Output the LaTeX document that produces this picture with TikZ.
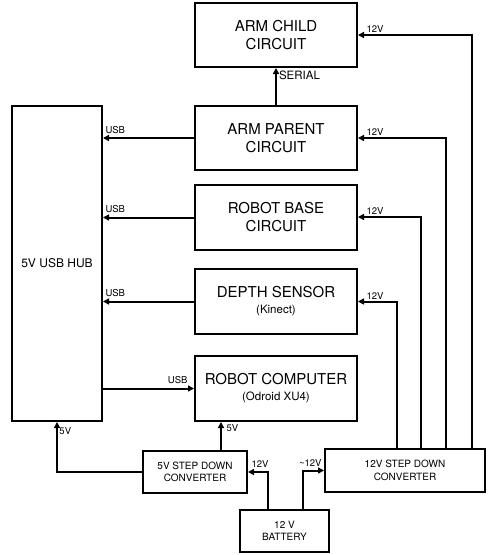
\documentclass[tikz,border=0pt]{standalone}
\usepackage{fontspec}
\setmainfont{TeX Gyre Heros}
\usepackage{tikz}
\usetikzlibrary{calc,arrows.meta}

\begin{document}
\begin{tikzpicture}[x=1pt, y=-1pt, line width=2pt,
    block/.style={draw, rectangle, minimum width=162pt, minimum height=64pt, align=center, font=\fontsize{15}{18}\selectfont},
    small/.style={draw, rectangle, align=center, font=\fontsize{10}{12.5}\selectfont},
    lbl/.style={font=\fontsize{9.5}{11}\selectfont, inner sep=1.5pt},
    >={Triangle[length=6pt, width=6pt]}]
    \useasboundingbox (0,0) rectangle (501,555);

    \node[block] (child) at (276, 35) {ARM CHILD\\CIRCUIT};
    \node[block] (parent) at (276, 138) {ARM PARENT\\CIRCUIT};
    \node[block, minimum height=65pt] (base) at (276, 217.5) {ROBOT BASE\\CIRCUIT};
    \node[block, minimum height=65pt] (depth) at (276, 301.5) {DEPTH SENSOR\\[-2pt]{\fontsize{11.5}{14}\selectfont (Kinect)}};
    \node[block, minimum height=65pt] (comp) at (276, 388.5) {ROBOT COMPUTER\\[-2pt]{\fontsize{11.5}{14}\selectfont (Odroid XU4)}};
    \node[draw, rectangle, minimum width=90pt, minimum height=315pt, font=\fontsize{12}{14}\selectfont] (hub) at (57, 263.5) {5V USB HUB};
    \node[small, minimum width=104pt, minimum height=42pt] (sd5) at (195, 472) {5V STEP DOWN\\CONVERTER};
    \node[small, minimum width=160pt, minimum height=43pt] (sd12) at (405, 470.5) {12V STEP DOWN\\CONVERTER};
    \node[small, minimum width=89pt, minimum height=42pt] (batt) at (284.5, 531) {12 V\\BATTERY};

    \draw[->] (parent.north) -- (child.south) node[pos=0.8, right, font=\fontsize{11.5}{13}\selectfont, inner sep=2pt] {SERIAL};

    \draw[->] (parent.west) -- (parent.west -| hub.east) node[pos=1, above right, lbl, yshift=2pt] {USB};
    \draw[->] (base.west) -- (base.west -| hub.east) node[pos=1, above right, lbl, yshift=2pt] {USB};
    \draw[->] (depth.west) -- (depth.west -| hub.east) node[pos=1, above right, lbl, yshift=2pt] {USB};
    \draw[->] (hub.east |- comp.west) -- (comp.west) node[pos=1, above left, lbl, xshift=-4pt, yshift=2pt] {USB};

    \draw[->] ([xshift=67pt]sd12.north) |- (child.east) node[pos=1, above right, lbl, xshift=6pt] {12V};
    \draw[->] ([xshift=41pt]sd12.north) |- (parent.east) node[pos=1, above right, lbl, xshift=6pt] {12V};
    \draw[->] ([xshift=16pt]sd12.north) |- ([yshift=0.5pt]base.east) node[pos=1, above right, lbl, xshift=6pt] {12V};
    \draw[->] ([xshift=-8pt]sd12.north) |- (depth.east) node[pos=1, above right, lbl, xshift=6pt] {12V};

    \draw[->] (sd5.west) -| (hub.south) node[pos=1, below right, lbl, yshift=-3pt] {5V};
    \draw[->] ([xshift=26pt]sd5.north) -- ([xshift=26pt]sd5.north |- comp.south) node[pos=1, below right, lbl, xshift=3pt] {5V};

    \draw[->] ([xshift=-16.5pt]batt.north) |- (sd5.east) node[pos=1, above right, lbl, xshift=1pt, yshift=2pt] {12V};
    \draw[->] ([xshift=18.5pt]batt.north) |- (sd12.west) node[pos=1, above left, lbl, yshift=2pt] {\textasciitilde12V};
  \end{tikzpicture}
\end{document}
